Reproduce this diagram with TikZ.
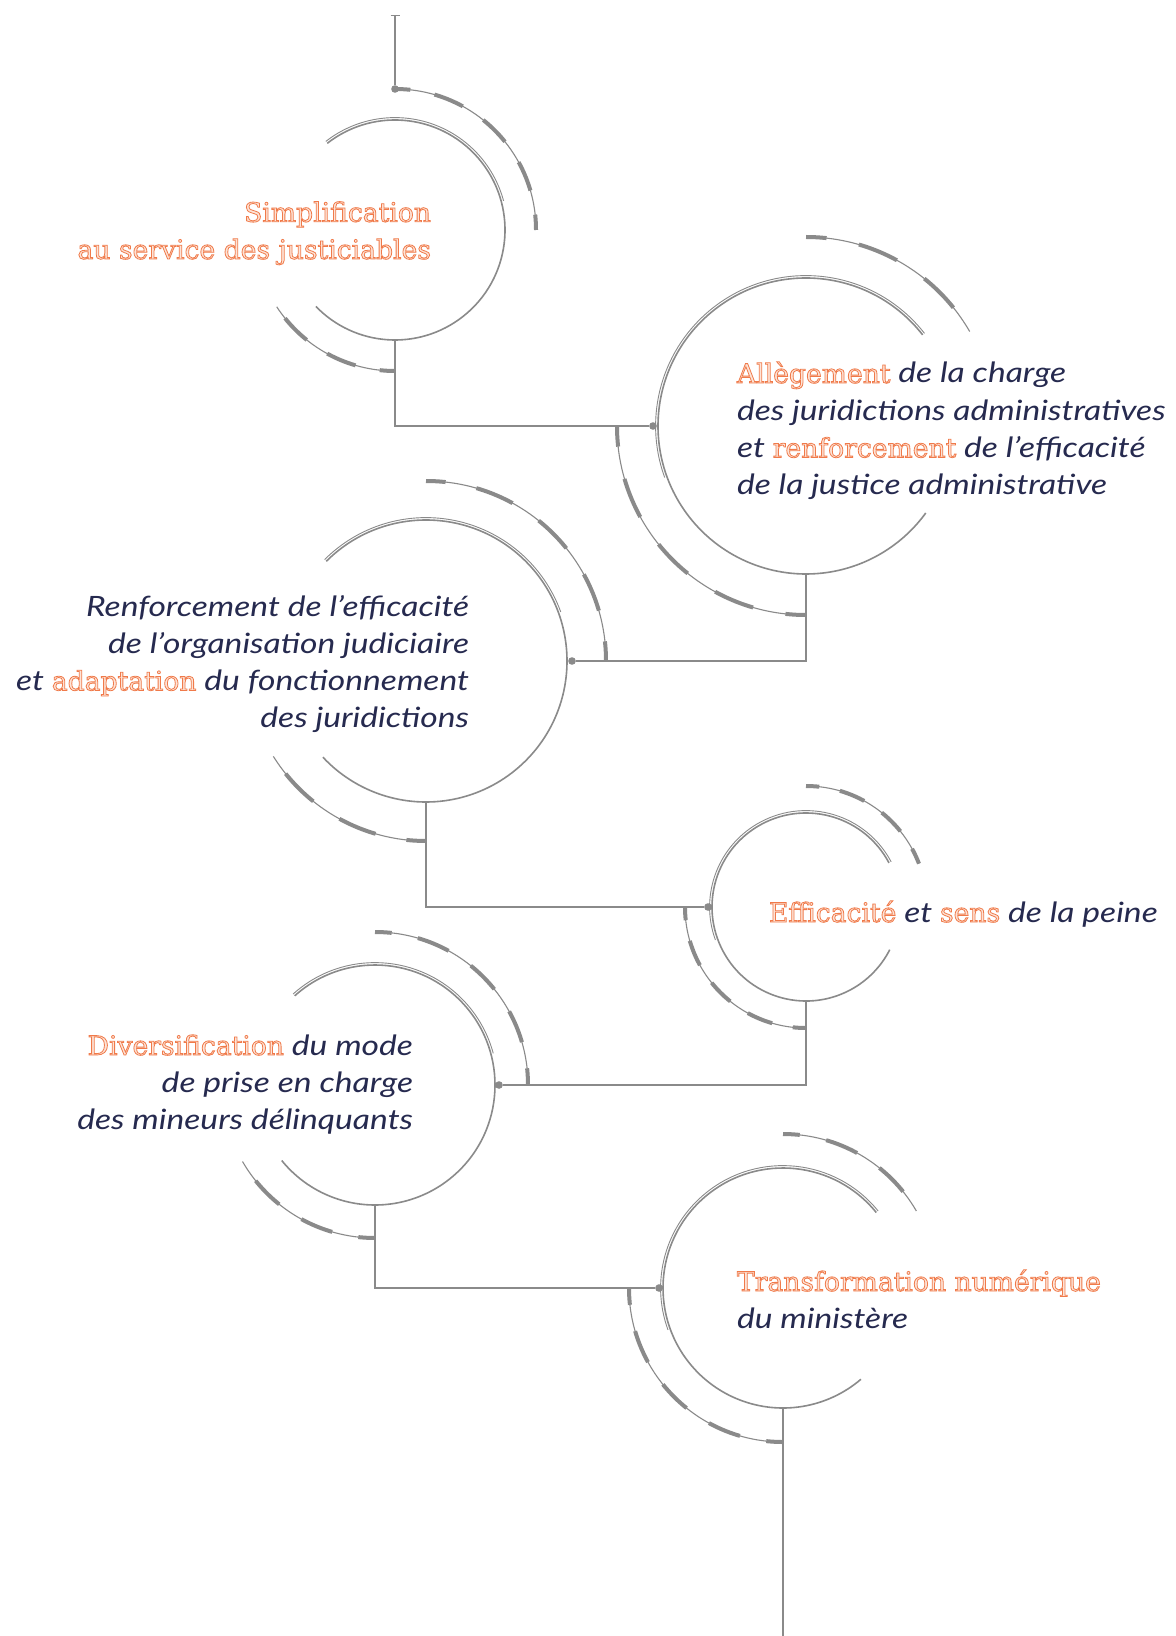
\documentclass[tikz,border=0pt]{standalone}
\usepackage{fontspec}
\usetikzlibrary{arrows.meta}
\newfontfamily\dkfont{Lato}[FakeStretch=1.2]
\newfontfamily\orfill{DejaVu Serif}
\definecolor{lgray}{HTML}{8A8A8A}
\definecolor{orng}{HTML}{F07A4A}
\definecolor{orngl}{HTML}{FDE3D6}
\definecolor{navy}{HTML}{262A4F}
% outlined orange words: light fill, orange stroke (PDF text render mode 2)
\newcommand\hl[1]{{\upshape\orfill\fontsize{13.3pt}{18.6pt}\selectfont\color{orngl}\special{pdf:literal direct 2 Tr 0.4 w 0.941 0.478 0.29 RG}#1\special{pdf:literal direct 0 Tr}}}
\newcommand\ticked[4]{%
  \pgfmathsetmacro\dOn{#2*0.5*12.5*pi/180}%
  \pgfmathsetmacro\dOff{#2*0.5*10*pi/180}%
  \pgfmathsetmacro\dPh{#2*0.5*6.25*pi/180}%
  \draw[outerthin] ([shift={(#3:#2)}]#1.center) arc[start angle=#3,end angle=#4,radius=#2];%
  \draw[outerthick,dash pattern=on \dOn pt off \dOff pt,dash phase=\dPh pt] ([shift={(#3:#2)}]#1.center) arc[start angle=#3,end angle=#4,radius=#2];%
}
\newcommand\ring[5]{% node, r, start, end, double-end
  \draw[innerarc] ([shift={(#3:#2)}]#1.center) arc[start angle=#3,end angle=#4,radius=#2];%
  \pgfmathsetmacro\rr{#2+2.4}%
  \draw[innerdbl] ([shift={(#3:\rr)}]#1.center) arc[start angle=#3,end angle=#5,radius=\rr];%
}
\tikzset{
  hub/.style={circle, draw=none, inner sep=0pt, outer sep=0pt},
  dot/.style={circle, fill=lgray, inner sep=0pt, outer sep=0pt, minimum size=3.8pt},
  conn/.style={draw=lgray, line width=0.75pt},
  innerarc/.style={draw=lgray, line width=0.8pt},
  innerdbl/.style={draw=lgray, line width=0.45pt},
  outerthin/.style={draw=lgray, line width=0.55pt},
  outerthick/.style={draw=lgray, line width=2pt},
  txt/.style={inner sep=0pt, outer sep=0pt, text=navy, font={\dkfont\itshape\fontsize{14pt}{18.6pt}\selectfont}},
}
\begin{document}
\begin{tikzpicture}[x=0.5pt,y=0.5pt]
\useasboundingbox (0,0) rectangle (1175,-1636);
\fill[white] (0,0) rectangle (1175,-1636);
% hubs (circle centres)
\node[hub, minimum size=110pt] (c1) at (395,-230) {};
\node[hub, minimum size=148pt] (c2) at (806,-426) {};
\node[hub, minimum size=141pt] (c3) at (426,-661) {};
\node[hub, minimum size=94pt]  (c4) at (806,-907) {};
\node[hub, minimum size=120pt] (c5) at (375,-1085) {};
\node[hub, minimum size=120pt] (c6) at (783,-1288) {};
% rings
\ring{c1}{110}{128}{-136}{15}
\ring{c2}{148}{38}{324}{200}
\ring{c3}{141}{135}{-137}{20}
\ring{c4}{94}{28}{333}{200}
\ring{c5}{120}{132}{-141}{15}
\ring{c6}{120}{39}{310.5}{200}
% outer ticked arcs
\ticked{c1}{141}{90}{0}   \ticked{c1}{141}{270}{213}
\ticked{c2}{189}{90}{30}  \ticked{c2}{189}{270}{180}
\ticked{c3}{180}{90}{0}   \ticked{c3}{180}{270}{212}
\ticked{c4}{121}{90}{21}  \ticked{c4}{121}{270}{180}
\ticked{c5}{153}{90}{0}   \ticked{c5}{153}{270}{210}
\ticked{c6}{154}{90}{30}  \ticked{c6}{154}{270}{180}
% dots and end points
\coordinate (top) at (395,-15);
\coordinate (bottom) at (783,-1636);
\node[dot] (d1) at (395,-89) {};
\node[dot] (d2) at (653,-426) {};
\node[dot] (d3) at (572,-661) {};
\node[dot] (d4) at (708,-907) {};
\node[dot] (d5) at (499,-1085) {};
\node[dot] (d6) at (659,-1288) {};
% connectors
\draw[conn, {Bar[width=4.5pt,length=0pt]}-] (top) -- (d1);
\draw[conn] (c1.south) |- (d2);
\draw[conn] (c2.south) |- (d3);
\draw[conn] (c3.south) |- (d4);
\draw[conn] (c4.south) |- (d5);
\draw[conn] (c5.south) |- (d6);
\draw[conn] (c6.south) -- (bottom);
% texts (anchor = baseline of the last line)
\node[txt, anchor=base east, align=right] (t1) at (431,-259)
  {\hl{Simplification}\\\hl{au service des justiciables}};
\node[txt, anchor=base west, align=left] (t2) at (737,-494.6)
  {\hl{Allègement} de la charge\\des juridictions administratives\\et \hl{renforcement} de l’efficacité\\de la justice administrative};
\node[txt, anchor=base east, align=right] (t3) at (469,-727.6)
  {Renforcement de l’efficacité\\de l’organisation judiciaire\\et \hl{adaptation} du fonctionnement\\des juridictions};
\node[txt, anchor=base west, align=left] (t4) at (769,-922)
  {\hl{Efficacité} et \hl{sens} de la peine};
\node[txt, anchor=base east, align=right] (t5) at (413,-1129.4)
  {\hl{Diversification} du mode\\de prise en charge\\des mineurs délinquants};
\node[txt, anchor=base west, align=left] (t6) at (737,-1328.2)
  {\hl{Transformation numérique}\\du ministère};
\end{tikzpicture}
\end{document}
